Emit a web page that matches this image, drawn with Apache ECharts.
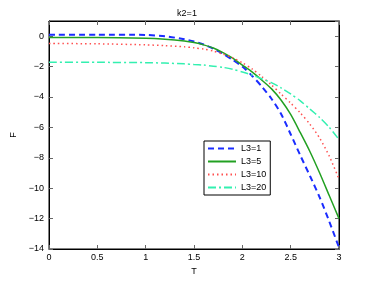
<!DOCTYPE html>
<html><head><meta charset="utf-8">
<script src="https://cdn.jsdelivr.net/npm/echarts@6/dist/echarts.min.js"></script>
<style>html,body{margin:0;padding:0;background:#fff}#c{width:374px;height:281px}</style>
</head><body><div id="c"></div>
<script>
const T = [0,0.5,1,1.2,1.4,1.5,1.6,1.7,1.8,1.9,2.0,2.1,2.2,2.3,2.4,2.5,2.6,2.7,2.8,2.9,3.0];
const L3_1  = [0.1,0.1,0.08,0.0,-0.2,-0.35,-0.55,-0.82,-1.15,-1.55,-2.0,-2.6,-3.3,-4.1,-5.1,-6.45,-7.85,-9.2,-10.6,-12.2,-13.9];
const L3_5  = [-0.08,-0.08,-0.13,-0.2,-0.32,-0.42,-0.57,-0.78,-1.08,-1.45,-1.9,-2.35,-2.88,-3.45,-4.2,-5.15,-6.35,-7.6,-9.0,-10.5,-12.0];
const L3_10 = [-0.48,-0.5,-0.57,-0.62,-0.7,-0.76,-0.85,-0.98,-1.18,-1.42,-1.75,-2.15,-2.65,-3.2,-3.8,-4.4,-5.05,-5.8,-6.7,-7.9,-9.4];
const L3_20 = [-1.72,-1.72,-1.74,-1.77,-1.82,-1.86,-1.9,-1.97,-2.05,-2.18,-2.35,-2.55,-2.8,-3.05,-3.4,-3.8,-4.25,-4.8,-5.35,-6.0,-6.8];
const names = ['L3=1','L3=5','L3=10','L3=20'];
const xTicks = [0,0.5,1,1.5,2,2.5,3];
const yTicks = [-14,-12,-10,-8,-6,-4,-2,0];

const font = 'Liberation Sans, Arial, sans-serif';
const pair = a => T.map((t,i)=>[t,a[i]]);
const fmt = v => String(v).replace('-', '\u2212');
const styles = [
  {color:'#1a2cff', type:[6,4], width:2},
  {color:'#22a022', type:'solid', width:1.5},
  {color:'#ff5050', type:[1.5,3], width:1.5},
  {color:'#33f0b0', type:[8,3,2,3], width:1.5}
];
const data = [L3_1,L3_5,L3_10,L3_20];
const chart = echarts.init(document.getElementById('c'));
const axCommon = {
  axisLine:{show:true,onZero:false,lineStyle:{color:'#000',width:1}},
  axisTick:{show:true,inside:true,length:4,lineStyle:{color:'#666'}},
  splitLine:{show:false}
};
chart.setOption({
  animation:false,
  backgroundColor:'#fff',
  title:{text:'k2=1',left:'center',top:4,textStyle:{fontFamily:font,fontSize:9,fontWeight:'normal',color:'#000'}},
  grid:{left:49,right:35,top:21,bottom:32,show:true,borderColor:'#000',borderWidth:1},
  legend:{
    orient:'vertical',left:204,top:141,itemWidth:28,itemHeight:8,itemGap:4,
    padding:[3,4,3,3],
    borderColor:'#000',borderWidth:1,backgroundColor:'#fff',
    itemStyle:{color:'rgba(0,0,0,0)',borderWidth:0,opacity:0},
    textStyle:{fontFamily:font,fontSize:9,color:'#000'},
    data:names
  },
  xAxis:[
    Object.assign({type:'value',min:0,max:3,interval:0.5,name:'T',nameLocation:'middle',nameGap:13,
      nameTextStyle:{fontFamily:font,fontSize:9,color:'#000'},
      axisLabel:{fontFamily:font,fontSize:9,color:'#000',margin:4,formatter:v=>fmt(v)}},axCommon),
    Object.assign({type:'value',min:0,max:3,interval:0.5,position:'top',axisLabel:{show:false}},axCommon)
  ],
  yAxis:[
    Object.assign({type:'value',min:-14,max:1,interval:2,name:'F',nameLocation:'middle',nameGap:17,
      nameTextStyle:{fontFamily:font,fontSize:9,color:'#000'},
      axisLabel:{fontFamily:font,fontSize:9,color:'#000',margin:5,showMaxLabel:false,
        formatter:v=>yTicks.includes(v)?fmt(v):''}},axCommon),
    Object.assign({type:'value',min:-14,max:1,interval:2,position:'right',axisLabel:{show:false}},axCommon)
  ],
  series:names.map((n,i)=>({
    name:n,type:'line',data:pair(data[i]),smooth:0.25,showSymbol:false,symbol:'none',
    lineStyle:styles[i],itemStyle:{color:styles[i].color}
  }))
});
</script></body></html>
